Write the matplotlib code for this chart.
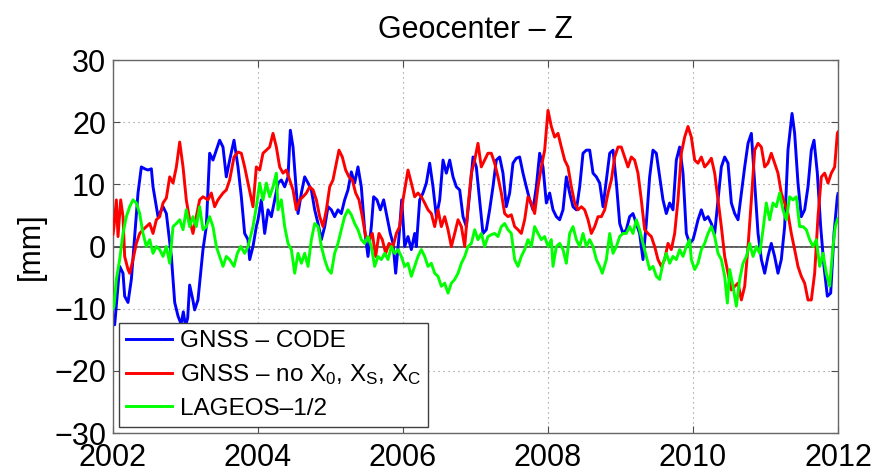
import numpy as np
import matplotlib
matplotlib.use("Agg")
import matplotlib.pyplot as plt

plt.rcParams['font.family'] = ['Liberation Sans', 'DejaVu Sans']
plt.rcParams['mathtext.fontset'] = 'custom'
plt.rcParams['mathtext.rm'] = 'Liberation Sans'
plt.rcParams['mathtext.it'] = 'Liberation Sans'
plt.rcParams['axes.unicode_minus'] = True

title = "Geocenter – Z"
ylabel = "[mm]"
labels = ["GNSS – CODE", r"GNSS – no X$_{\mathrm{0}}$, X$_{\mathrm{S}}$, X$_{\mathrm{C}}$", "LAGEOS–1/2"]
xticks = [2002, 2004, 2006, 2008, 2010, 2012]
yticks = [-30, -20, -10, 0, 10, 20, 30]

# GNSS - CODE (blue)
t_code = [2002.0, 2002.023, 2002.092, 2002.138, 2002.161, 2002.207, 2002.253, 2002.345, 2002.391, 2002.437,
          2002.483, 2002.529, 2002.552, 2002.621, 2002.690, 2002.736, 2002.805, 2002.851, 2002.897, 2002.94,
          2002.97, 2003.00, 2003.03, 2003.057, 2003.10, 2003.126, 2003.172, 2003.241, 2003.287, 2003.333,
          2003.379, 2003.425, 2003.471, 2003.517, 2003.563, 2003.609, 2003.669, 2003.724, 2003.770, 2003.816,
          2003.862, 2003.885, 2003.931, 2003.977, 2004.000, 2004.046, 2004.092, 2004.138, 2004.184, 2004.230,
          2004.276, 2004.322, 2004.368, 2004.414, 2004.446, 2004.483, 2004.520, 2004.552, 2004.598, 2004.644,
          2004.690, 2004.736, 2004.782, 2004.828, 2004.874, 2004.920, 2004.966, 2005.011, 2005.057, 2005.103,
          2005.149, 2005.195, 2005.241, 2005.287, 2005.333, 2005.379, 2005.425, 2005.471, 2005.517, 2005.563,
          2005.595, 2005.641, 2005.687, 2005.733, 2005.779, 2005.825, 2005.862, 2005.899, 2005.945, 2005.982,
          2006.023, 2006.069, 2006.115, 2006.161, 2006.184, 2006.230, 2006.276, 2006.322, 2006.368, 2006.414,
          2006.460, 2006.506, 2006.552, 2006.598, 2006.644, 2006.690, 2006.736, 2006.782, 2006.828, 2006.874,
          2006.920, 2006.966, 2007.011, 2007.057, 2007.103, 2007.149, 2007.195, 2007.241, 2007.287, 2007.333,
          2007.379, 2007.425, 2007.471, 2007.517, 2007.563, 2007.609, 2007.655, 2007.701, 2007.747, 2007.793,
          2007.839, 2007.885, 2007.931, 2007.977, 2008.023, 2008.069, 2008.115, 2008.161, 2008.207, 2008.253,
          2008.299, 2008.345, 2008.391, 2008.437, 2008.483, 2008.529, 2008.575, 2008.621, 2008.667, 2008.713,
          2008.759, 2008.805, 2008.851, 2008.897, 2008.943, 2008.989, 2009.034, 2009.080, 2009.126, 2009.172,
          2009.218, 2009.264, 2009.310, 2009.356, 2009.402, 2009.448, 2009.494, 2009.540, 2009.586, 2009.632,
          2009.678, 2009.724, 2009.770, 2009.816, 2009.862, 2009.908, 2009.954, 2010.000, 2010.023, 2010.069,
          2010.115, 2010.161, 2010.207, 2010.253, 2010.299, 2010.345, 2010.391, 2010.437, 2010.483, 2010.529,
          2010.575, 2010.621, 2010.667, 2010.713, 2010.759, 2010.805, 2010.851, 2010.897, 2010.943, 2010.989,
          2011.034, 2011.080, 2011.126, 2011.172, 2011.218, 2011.264, 2011.310, 2011.366, 2011.402, 2011.448,
          2011.494, 2011.540, 2011.586, 2011.632, 2011.669, 2011.715, 2011.761, 2011.807, 2011.853, 2011.899,
          2011.945, 2011.991, 2012.0]
v_code = [-12.0, -12.6, -3.2, -4.3, -8.0, -9.0, -5.3, 8.6, 12.8, 12.5,
          12.3, 12.5, 9.6, 4.8, 6.4, 5.3, -1.6, -9.0, -11.2, -12.5,
          -10.5, -12.8, -11.5, -6.2, -8.5, -10.2, -8.6, -0.5, 3.2, 15.0,
          13.9, 15.5, 17.1, 16.0, 11.2, 13.9, 17.1, 12.8, 8.0, 2.1,
          1.1, -2.1, 0.0, 3.2, 4.3, 7.5, 2.1, 5.9, 4.8, 7.5,
          10.2, 10.7, 9.6, 11.2, 18.7, 16.0, 10.2, 5.3, 8.6, 11.2,
          10.2, 9.1, 5.9, 3.7, 1.1, 3.2, 6.4, 5.9, 4.8, 5.9,
          5.3, 7.5, 9.1, 12.0, 10.2, 12.8, 9.6, 2.7, -1.6, 3.2,
          8.0, 7.5, 5.9, 7.5, 4.8, 2.1, 0.5, -4.3, 1.6, 7.5,
          0.0, 1.6, -0.5, 2.1, 0.0, 7.5, 8.6, 10.2, 13.4, 9.6,
          4.8, 7.5, 13.9, 11.8, 13.9, 11.2, 9.6, 9.1, 4.8, 3.2,
          8.6, 14.4, 12.8, 7.5, 2.1, 2.7, 5.9, 9.6, 13.9, 14.4,
          11.8, 6.4, 8.6, 13.4, 14.2, 14.4, 11.8, 9.6, 7.5, 5.9,
          9.6, 15.0, 12.8, 7.0, 8.6, 5.9, 4.8, 4.3, 5.9, 11.2,
          8.6, 6.4, 5.9, 9.6, 15.0, 15.5, 15.5, 11.8, 11.2, 10.2,
          6.4, 10.7, 15.0, 15.5, 10.2, 3.7, 2.1, 2.7, 4.8, 5.3,
          3.7, 2.1, -2.1, 3.7, 11.2, 15.5, 15.0, 11.2, 7.5, 5.3,
          7.0, 5.9, 13.9, 16.0, 11.8, 2.1, 0.5, 1.1, 2.1, 4.3,
          5.9, 4.3, 4.8, 3.7, 2.1, 7.5, 12.8, 14.4, 13.4, 7.0,
          5.3, 4.3, 8.6, 12.8, 16.6, 18.2, 10.2, 2.1, -2.1, -4.3,
          -1.6, 0.5, -1.6, -4.3, -2.1, 3.2, 15.5, 21.4, 18.2, 10.2,
          4.8, 5.9, 9.6, 15.5, 17.1, 11.8, 3.2, -3.2, -8.0, -7.5,
          2.1, 8.0, 8.5]

# GNSS - no X0, XS, XC (red)
t_nox = [2002.0, 2002.014, 2002.046, 2002.069, 2002.106, 2002.138, 2002.161, 2002.207, 2002.230, 2002.276,
         2002.322, 2002.368, 2002.414, 2002.460, 2002.506, 2002.552, 2002.598, 2002.644, 2002.690, 2002.736,
         2002.782, 2002.828, 2002.874, 2002.920, 2002.966, 2003.011, 2003.057, 2003.103, 2003.149, 2003.195,
         2003.241, 2003.310, 2003.356, 2003.402, 2003.448, 2003.517, 2003.563, 2003.609, 2003.669, 2003.724,
         2003.770, 2003.816, 2003.862, 2003.931, 2003.977, 2004.023, 2004.069, 2004.115, 2004.161, 2004.207,
         2004.253, 2004.299, 2004.345, 2004.391, 2004.437, 2004.483, 2004.529, 2004.575, 2004.621, 2004.667,
         2004.713, 2004.759, 2004.805, 2004.851, 2004.897, 2004.943, 2004.989, 2005.034, 2005.080, 2005.117,
         2005.163, 2005.209, 2005.255, 2005.301, 2005.347, 2005.393, 2005.439, 2005.485, 2005.531, 2005.577,
         2005.623, 2005.669, 2005.715, 2005.761, 2005.807, 2005.862, 2005.908, 2005.954, 2006.000, 2006.069,
         2006.115, 2006.161, 2006.207, 2006.253, 2006.299, 2006.345, 2006.391, 2006.437, 2006.483, 2006.529,
         2006.575, 2006.621, 2006.667, 2006.713, 2006.759, 2006.805, 2006.851, 2006.897, 2006.943, 2006.989,
         2007.034, 2007.080, 2007.126, 2007.172, 2007.218, 2007.264, 2007.310, 2007.356, 2007.402, 2007.448,
         2007.494, 2007.540, 2007.586, 2007.632, 2007.678, 2007.724, 2007.770, 2007.816, 2007.862, 2007.908,
         2007.954, 2008.000, 2008.046, 2008.092, 2008.138, 2008.184, 2008.230, 2008.276, 2008.322, 2008.368,
         2008.414, 2008.460, 2008.506, 2008.552, 2008.598, 2008.644, 2008.690, 2008.736, 2008.782, 2008.828,
         2008.874, 2008.920, 2008.966, 2009.011, 2009.057, 2009.103, 2009.149, 2009.195, 2009.241, 2009.287,
         2009.333, 2009.379, 2009.425, 2009.471, 2009.517, 2009.563, 2009.609, 2009.655, 2009.701, 2009.747,
         2009.793, 2009.839, 2009.885, 2009.931, 2009.977, 2010.023, 2010.069, 2010.115, 2010.161, 2010.207,
         2010.253, 2010.299, 2010.345, 2010.391, 2010.437, 2010.483, 2010.529, 2010.575, 2010.621, 2010.667,
         2010.713, 2010.759, 2010.805, 2010.851, 2010.897, 2010.943, 2010.989, 2011.034, 2011.080, 2011.126,
         2011.172, 2011.218, 2011.264, 2011.310, 2011.356, 2011.402, 2011.448, 2011.494, 2011.540, 2011.586,
         2011.632, 2011.678, 2011.724, 2011.770, 2011.816, 2011.862, 2011.908, 2011.954, 2011.991, 2012.0]
v_nox = [2.0, 3.2, 7.5, 1.6, 7.5, 4.8, -1.6, -3.7, -4.3, -2.1,
         0.5, 2.1, 2.7, 3.2, 3.7, 2.1, 4.3, 4.8, 7.0, 7.8,
         11.2, 10.2, 12.8, 16.8, 12.8, 7.5, 4.3, 2.1, 4.8, 7.5,
         8.0, 7.5, 8.6, 6.4, 7.5, 8.6, 9.1, 10.7, 14.4, 15.2,
         15.0, 12.8, 10.2, 6.4, 12.8, 12.3, 15.0, 15.5, 16.0, 18.2,
         16.0, 12.8, 11.8, 12.3, 10.7, 9.1, 5.9, 7.5, 8.0, 8.6,
         9.6, 9.1, 7.5, 4.8, 3.2, 5.9, 9.6, 10.7, 13.4, 15.5,
         14.4, 12.3, 11.2, 10.7, 8.6, 7.5, 4.8, 1.6, 1.1, 2.1,
         -1.6, 2.1, 1.1, -1.1, 0.5, 0.0, 2.1, 3.2, 7.5, 12.3,
         10.2, 8.0, 8.6, 8.0, 7.0, 5.9, 5.3, 3.2, 5.9, 3.2,
         4.8, 2.7, 0.0, 2.1, 4.3, 3.2, 0.0, 6.4, 11.8, 13.9,
         16.6, 12.8, 13.9, 15.0, 15.0, 13.4, 11.2, 8.6, 5.3, 4.8,
         5.1, 3.2, 2.7, 2.1, 4.3, 8.0, 7.0, 5.3, 9.6, 12.8,
         15.5, 21.9, 19.3, 17.6, 18.2, 16.0, 13.9, 12.8, 9.6, 7.0,
         5.9, 6.4, 5.9, 4.3, 2.1, 3.2, 4.8, 4.8, 5.9, 8.6,
         10.7, 14.4, 16.0, 16.0, 14.4, 12.8, 14.4, 13.9, 11.8, 7.5,
         2.7, 2.1, 1.6, 0.0, -2.1, -3.2, -2.1, 0.5, -0.5, 2.1,
         7.5, 15.0, 17.6, 19.3, 17.6, 13.9, 13.4, 14.4, 12.8, 13.4,
         14.2, 11.8, 7.5, 3.2, -1.6, -4.3, -7.0, -6.4, -5.9, -8.6,
         -6.4, 0.0, 7.5, 15.5, 16.6, 16.0, 12.8, 13.4, 15.0, 13.4,
         11.8, 8.6, 7.0, 5.3, 2.1, -0.5, -3.2, -4.8, -5.9, -8.6,
         -8.6, -4.3, 4.8, 11.2, 11.8, 10.2, 11.8, 12.8, 18.2, 18.4]

# LAGEOS-1/2 (green)
t_lag = [2002.0, 2002.014, 2002.046, 2002.092, 2002.138, 2002.184, 2002.230, 2002.276, 2002.322, 2002.368,
         2002.414, 2002.460, 2002.506, 2002.552, 2002.598, 2002.644, 2002.690, 2002.736, 2002.782, 2002.828,
         2002.874, 2002.920, 2002.966, 2003.011, 2003.057, 2003.103, 2003.149, 2003.195, 2003.241, 2003.287,
         2003.333, 2003.379, 2003.425, 2003.471, 2003.517, 2003.563, 2003.609, 2003.669, 2003.715, 2003.761,
         2003.816, 2003.862, 2003.908, 2003.931, 2003.977, 2004.023, 2004.069, 2004.115, 2004.161, 2004.207,
         2004.253, 2004.276, 2004.322, 2004.368, 2004.414, 2004.460, 2004.506, 2004.552, 2004.598, 2004.644,
         2004.690, 2004.736, 2004.782, 2004.828, 2004.874, 2004.920, 2004.966, 2005.011, 2005.057, 2005.103,
         2005.149, 2005.195, 2005.241, 2005.287, 2005.333, 2005.379, 2005.425, 2005.471, 2005.517, 2005.563,
         2005.609, 2005.655, 2005.701, 2005.747, 2005.793, 2005.839, 2005.885, 2005.931, 2005.977, 2006.023,
         2006.069, 2006.115, 2006.161, 2006.207, 2006.253, 2006.299, 2006.345, 2006.391, 2006.437, 2006.483,
         2006.529, 2006.575, 2006.621, 2006.667, 2006.713, 2006.759, 2006.805, 2006.851, 2006.897, 2006.943,
         2006.989, 2007.034, 2007.080, 2007.126, 2007.172, 2007.218, 2007.264, 2007.310, 2007.356, 2007.402,
         2007.448, 2007.494, 2007.540, 2007.586, 2007.632, 2007.678, 2007.724, 2007.770, 2007.816, 2007.862,
         2007.908, 2007.954, 2008.000, 2008.046, 2008.069, 2008.115, 2008.161, 2008.207, 2008.253, 2008.299,
         2008.345, 2008.391, 2008.437, 2008.483, 2008.529, 2008.575, 2008.621, 2008.667, 2008.713, 2008.749,
         2008.805, 2008.851, 2008.897, 2008.943, 2008.989, 2009.034, 2009.080, 2009.126, 2009.172, 2009.218,
         2009.264, 2009.310, 2009.356, 2009.402, 2009.448, 2009.494, 2009.540, 2009.586, 2009.632, 2009.678,
         2009.724, 2009.770, 2009.816, 2009.862, 2009.908, 2009.954, 2009.977, 2010.023, 2010.069, 2010.115,
         2010.161, 2010.207, 2010.253, 2010.299, 2010.345, 2010.391, 2010.437, 2010.474, 2010.506, 2010.552,
         2010.598, 2010.644, 2010.690, 2010.736, 2010.782, 2010.828, 2010.874, 2010.920, 2010.966, 2011.011,
         2011.057, 2011.103, 2011.149, 2011.195, 2011.241, 2011.287, 2011.333, 2011.379, 2011.425, 2011.471,
         2011.517, 2011.563, 2011.609, 2011.655, 2011.701, 2011.747, 2011.793, 2011.839, 2011.885, 2011.931,
         2011.963, 2011.991, 2012.0]
v_lag = [-10.0, -9.6, -5.3, -2.1, 2.1, 4.8, 6.4, 7.5, 7.0, 5.3,
         2.1, 0.0, 1.1, -1.1, 0.0, -0.5, -1.6, 0.0, -2.7, 3.2,
         3.7, 4.3, 2.7, 5.9, 3.2, 4.8, 3.2, 6.4, 2.7, 3.2,
         4.8, 3.2, 0.0, -1.6, -3.2, -1.6, -2.1, -3.2, -1.1, 0.0,
         -1.1, 0.0, 2.1, 3.2, 6.4, 10.2, 7.5, 10.2, 8.0, 9.6,
         11.8, 5.9, 7.5, 3.2, 0.5, -0.5, -4.3, -1.1, -2.7, -1.1,
         -3.2, 1.1, 3.7, 3.2, 0.0, -2.1, -3.7, -4.3, -1.1, 0.5,
         2.7, 4.8, 5.9, 5.1, 3.7, 2.7, 1.1, 0.5, 1.6, 0.0,
         -3.2, -1.6, -2.1, -1.1, -2.1, 0.0, -1.1, -0.5, -1.6, -3.2,
         -2.7, -4.8, -3.2, -1.6, -0.5, -1.6, -3.2, -2.7, -4.3, -4.8,
         -6.4, -5.9, -7.5, -5.9, -5.3, -4.3, -2.7, -1.6, 0.0, 0.5,
         2.7, 1.1, 2.1, 0.0, 1.6, 1.9, 2.1, 1.6, 3.2, 3.7,
         2.7, 2.1, -2.1, -3.2, -1.6, -0.5, 1.1, 0.0, 3.2, 2.1,
         1.1, 1.6, 0.0, 1.1, -3.2, 0.0, 0.5, -0.5, -2.7, 2.1,
         3.2, 1.1, 0.0, 2.1, 0.0, 1.1, 0.0, -2.1, -3.2, -4.3,
         -2.1, 2.1, -1.1, 0.0, 1.6, 2.1, 2.1, 3.2, 2.1, 4.3,
         2.7, 0.5, -1.6, -3.7, -3.2, -4.8, -5.3, -2.7, -1.1, -2.7,
         -1.6, -2.1, -0.5, -1.6, 0.0, 1.1, -2.1, -3.7, -2.7, -0.5,
         0.5, 2.1, 3.2, 1.6, -1.1, -2.1, -4.8, -9.1, -3.7, -6.4,
         -9.6, -5.3, -2.7, -1.6, 0.5, -1.6, 0.0, -1.1, 2.7, 7.0,
         4.3, 7.0, 6.4, 8.6, 5.9, 4.3, 8.0, 7.5, 8.0, 3.2,
         3.2, 2.7, 1.1, 0.0, 1.1, -3.2, -1.1, -4.3, -6.4, 0.0,
         3.2, 4.3, 4.5]

W, H, DPI = 876, 473, 100
fig = plt.figure(figsize=(W / DPI, H / DPI), dpi=DPI)
ax = fig.add_axes([113 / W, 1 - 433 / H, (838 - 113) / W, (433 - 60) / H])

ax.axhline(0, color='0.25', lw=1.2, zorder=1)
ax.plot(t_code, v_code, color=(0, 0, 1), lw=2.1, label=labels[0], zorder=2)
ax.plot(t_nox, v_nox, color=(1, 0, 0), lw=2.1, label=labels[1], zorder=3)
ax.plot(t_lag, v_lag, color=(0, 1, 0), lw=2.1, label=labels[2], zorder=4)

ax.set_xlim(2002, 2012)
ax.set_ylim(-30, 30)
ax.set_xticks(xticks)
ax.set_yticks(yticks)
ax.set_yticklabels([str(v).replace('-', '\u2212') for v in yticks])
ax.tick_params(direction='in', length=5, width=0.8, colors='0.3', labelcolor='black',
               labelsize=22, top=True, right=True, pad=5)
ax.tick_params(axis='x', pad=7)
ax.grid(True, color='0.55', linestyle=(0, (1, 3.5)), linewidth=0.8)
for s in ax.spines.values():
    s.set_color('0.4')
    s.set_linewidth(1.0)

ax.set_title(title, fontsize=22, pad=16)
ax.set_ylabel(ylabel, fontsize=22, labelpad=6)

leg = ax.legend(loc='lower left', bbox_to_anchor=(6 / 725, 6 / 373), borderaxespad=0,
                fontsize=17.5, fancybox=False, framealpha=1, edgecolor='0.25',
                handlelength=1.9, handletextpad=0.3, labelspacing=0.42, borderpad=0.3)
leg.get_frame().set_linewidth(1.0)

fig.savefig('out.png', dpi=DPI)
